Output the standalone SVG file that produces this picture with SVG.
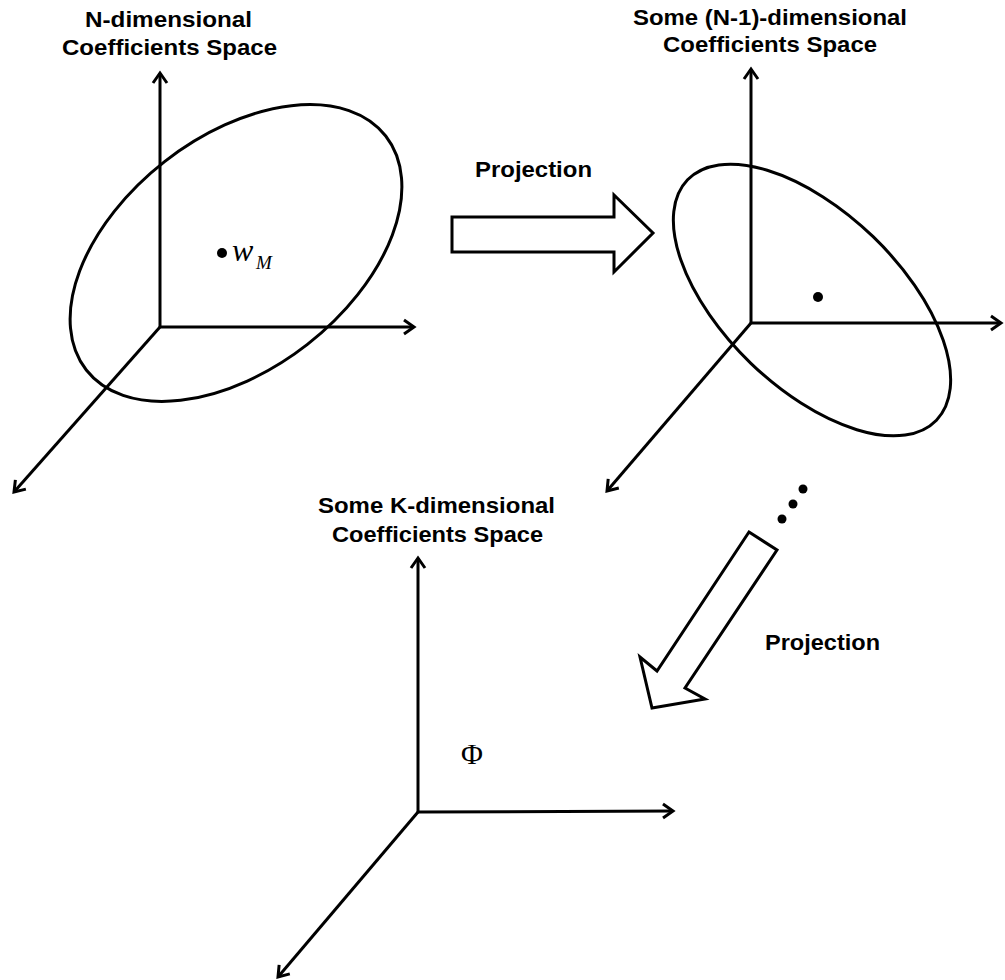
<svg xmlns="http://www.w3.org/2000/svg" width="1005" height="980" viewBox="0 0 1005 980">
<style>
.ax{fill:none;stroke:#000;stroke-width:3;marker-end:url(#ah)}
.el{fill:none;stroke:#000;stroke-width:3}
.big{fill:#fff;stroke:#000;stroke-width:3;stroke-linejoin:miter}
.lb{font-family:"Liberation Sans",Arial,sans-serif;font-weight:bold;font-size:22px;fill:#000}
.mt{font-family:"Liberation Serif","Times New Roman",serif;fill:#000}
</style>
<defs>
<marker id="ah" markerUnits="userSpaceOnUse" markerWidth="20" markerHeight="20" refX="11" refY="8" orient="auto" overflow="visible">
<path d="M1,1 L11,8 L1,15" fill="none" stroke="#000" stroke-width="3"/>
</marker>
</defs>
<rect width="1005" height="980" fill="#fff"/>

<g id="space-n">
<text class="lb" x="85" y="27" textLength="167" lengthAdjust="spacingAndGlyphs">N-dimensional</text>
<text class="lb" x="62" y="55" textLength="215" lengthAdjust="spacingAndGlyphs">Coefficients Space</text>
<ellipse class="el" cx="236" cy="253" rx="190" ry="116" transform="rotate(-38 236 253)"/>
<circle cx="222" cy="253" r="5"/>
<text class="mt" x="232" y="261" font-size="32" font-style="italic">w</text>
<text class="mt" x="256" y="269" font-size="19" font-style="italic">M</text>
</g>

<g id="space-n1">
<text class="lb" x="633" y="25" textLength="274" lengthAdjust="spacingAndGlyphs">Some (N-1)-dimensional</text>
<text class="lb" x="663" y="52" textLength="214" lengthAdjust="spacingAndGlyphs">Coefficients Space</text>
<ellipse class="el" cx="812" cy="300" rx="173" ry="88" transform="rotate(44 812 300)"/>
<circle cx="818" cy="297" r="5"/>
</g>

<g id="space-k">
<text class="lb" x="318" y="513" textLength="237" lengthAdjust="spacingAndGlyphs">Some K-dimensional</text>
<text class="lb" x="332" y="542" textLength="211" lengthAdjust="spacingAndGlyphs">Coefficients Space</text>
<text class="mt" x="461" y="764" font-size="30">Φ</text>
</g>

<g id="connectors">
<line class="ax" x1="160" y1="327" x2="160" y2="73"/>
<line class="ax" x1="160" y1="327" x2="414" y2="327"/>
<line class="ax" x1="160" y1="327" x2="14" y2="492"/>
<line class="ax" x1="751" y1="323" x2="751" y2="69"/>
<line class="ax" x1="751" y1="323" x2="1001" y2="323"/>
<line class="ax" x1="751" y1="323" x2="607" y2="491"/>
<line class="ax" x1="418" y1="812" x2="418" y2="558"/>
<line class="ax" x1="418" y1="812" x2="673" y2="811"/>
<line class="ax" x1="418" y1="812" x2="278" y2="977"/>
<polygon class="big" points="452,217 614,217 614,195 653,233 614,272 614,252 452,252"/>
<text class="lb" x="475" y="177" textLength="117" lengthAdjust="spacingAndGlyphs">Projection</text>
<polygon class="big" points="749,532 777,550 685,688 705,699 652,708 640,657 657,671"/>
<text class="lb" x="765" y="650" textLength="115" lengthAdjust="spacingAndGlyphs">Projection</text>
<circle cx="803" cy="489" r="4.5"/>
<circle cx="793" cy="504" r="4.5"/>
<circle cx="782" cy="519" r="4.5"/>
</g>
</svg>
